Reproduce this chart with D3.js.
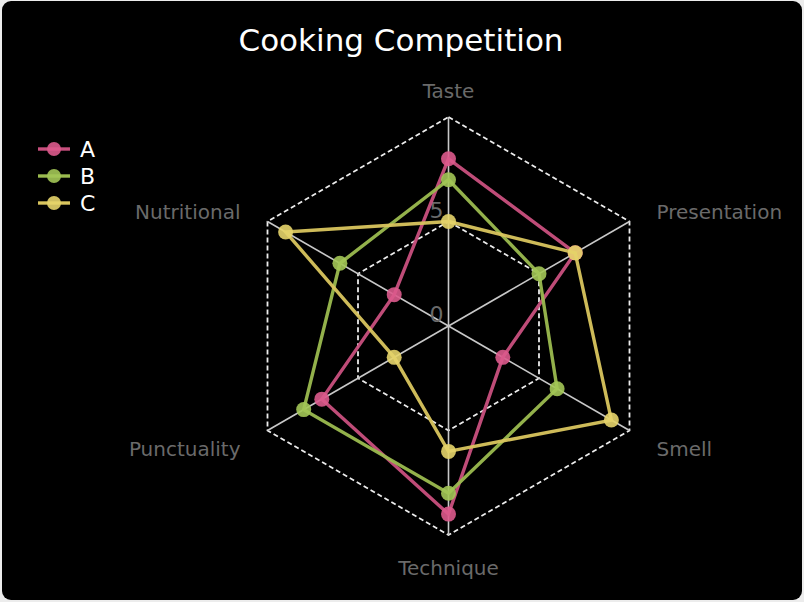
<!DOCTYPE html>
<html>
<head>
<meta charset="utf-8">
<script src="https://cdn.jsdelivr.net/npm/d3@7"></script>
<style>
  html, body { margin: 0; padding: 0; background: #ececec; }
  svg { display: block; }
  text { font-family: "DejaVu Sans", sans-serif; }
</style>
</head>
<body>
<svg id="plot" width="804" height="602"></svg>
<script>
const width = 804;
const height = 602;

const axes = ["Taste", "Presentation", "Smell", "Technique", "Punctuality", "Nutritional"];
const seriesNames = ["A", "B", "C"];
const valuesA = [8, 7, 3, 9, 7, 3];
const valuesB = [7, 5, 6, 8, 8, 6];
const valuesC = [5, 7, 9, 6, 3, 9];
const ringTicks = [5, 10];
const tickLabels = [0, 5];

const colors = ["#c9507e", "#9bbb4f", "#d9c55e"];
const markerColors = ["#dc5a8c", "#a3c657", "#e6d46a"];

const cx = 448.5, cy = 326;

const svg = d3.select("#plot");

svg.append("rect")
  .attr("x", 2).attr("y", 1)
  .attr("width", 800).attr("height", 599)
  .attr("rx", 9)
  .attr("fill", "#000");

const r = d3.scaleLinear().domain([0, 10]).range([0, 209]);
const angle = d3.scalePoint().domain(axes).range([0, 2 * Math.PI * 5 / 6]);

function pt(axis, v) {
  const a = angle(axis);
  return [cx + r(v) * Math.sin(a), cy - r(v) * Math.cos(a)];
}

const g = svg.append("g");

// rings
ringTicks.forEach(t => {
  const pts = axes.map(a => pt(a, t));
  g.append("path")
    .attr("d", d3.line()(pts) + "Z")
    .attr("fill", "none")
    .attr("stroke", "#ececec")
    .attr("stroke-width", 1.8)
    .attr("stroke-dasharray", "5,3");
});

// spokes
axes.forEach(a => {
  const [x2, y2] = pt(a, 10);
  g.append("line")
    .attr("x1", cx).attr("y1", cy)
    .attr("x2", x2).attr("y2", y2)
    .attr("stroke", "#c8c8c8")
    .attr("stroke-width", 1.6);
});

// tick labels
tickLabels.forEach(t => {
  g.append("text")
    .attr("x", cx - 5)
    .attr("y", cy - r(t) - 4)
    .attr("text-anchor", "end")
    .attr("fill", "#6a6a6a")
    .attr("font-size", 22)
    .text(t);
});

// axis labels
axes.forEach(a => {
  const ang = angle(a);
  const s = Math.sin(ang);
  const [vx, vy] = pt(a, 10);
  let x = vx, y = vy, anchor = "middle";
  if (Math.abs(s) < 0.01) {
    y = Math.cos(ang) > 0 ? vy - 19 : vy + 40;
  } else {
    anchor = s > 0 ? "start" : "end";
    x = vx + (s > 0 ? 27 : -27);
    y = vy + (Math.cos(ang) > 0 ? -3 : 25);
  }
  g.append("text")
    .attr("x", x).attr("y", y)
    .attr("text-anchor", anchor)
    .attr("fill", "#6a6a6a")
    .attr("font-size", 20)
    .text(a);
});

// series
const allValues = [valuesA, valuesB, valuesC];
allValues.forEach((vals, i) => {
  const pts = axes.map((a, j) => pt(a, vals[j]));
  g.append("path")
    .attr("d", d3.line()(pts) + "Z")
    .attr("fill", "none")
    .attr("stroke", colors[i])
    .attr("stroke-width", 3.4)
    .attr("stroke-opacity", 0.95);
  g.selectAll(null)
    .data(pts)
    .enter()
    .append("circle")
    .attr("cx", d => d[0])
    .attr("cy", d => d[1])
    .attr("r", 7.5)
    .attr("fill", markerColors[i])
    .attr("fill-opacity", 0.9);
});

// title
svg.append("text")
  .attr("x", 401)
  .attr("y", 51)
  .attr("text-anchor", "middle")
  .attr("fill", "#fff")
  .attr("font-size", 31)
  .text("Cooking Competition");

// legend
const legend = svg.append("g");
seriesNames.forEach((name, i) => {
  const y = 149 + i * 27;
  legend.append("line")
    .attr("x1", 38).attr("x2", 70)
    .attr("y1", y).attr("y2", y)
    .attr("stroke", colors[i])
    .attr("stroke-width", 3.4);
  legend.append("circle")
    .attr("cx", 54).attr("cy", y).attr("r", 7)
    .attr("fill", markerColors[i])
    .attr("fill-opacity", 0.9);
  legend.append("text")
    .attr("x", 80).attr("y", y + 8)
    .attr("fill", "#fff")
    .attr("font-size", 22)
    .text(name);
});
</script>
</body>
</html>
